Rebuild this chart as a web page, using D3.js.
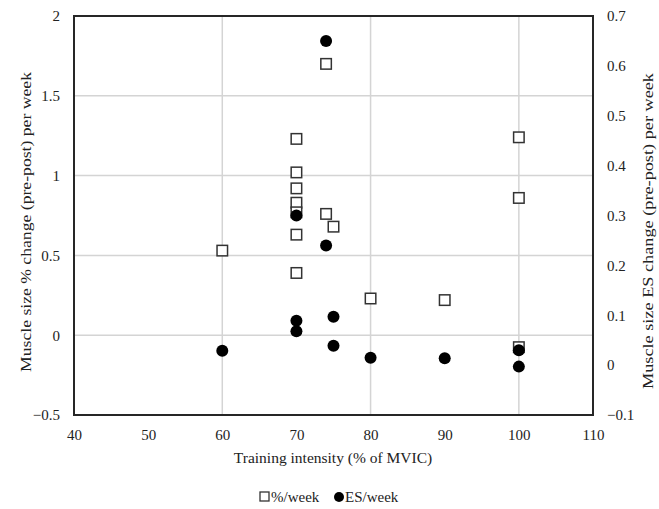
<!DOCTYPE html>
<html>
<head>
<meta charset="utf-8">
<script src="https://cdn.jsdelivr.net/npm/d3@7"></script>
<style>
  body { margin: 0; background: #fff; }
  text { font-family: "Liberation Serif", "DejaVu Serif", serif; fill: #222; }
</style>
</head>
<body>
<div id="chart"></div>
<script>
// training intensity (% MVIC) and % change per week (left axis)
var pctX = [60, 70, 70, 70, 70, 70, 70, 70, 74, 74, 75, 80, 90, 100, 100, 100];
var pctY = [0.53, 1.23, 1.02, 0.92, 0.83, 0.77, 0.63, 0.39, 1.70, 0.76, 0.68, 0.23, 0.22, 1.24, 0.86, -0.075];

// ES change per week (right axis)
var esX = [60, 70, 70, 70, 74, 74, 75, 75, 80, 90, 100, 100];
var esY = [0.029, 0.30, 0.089, 0.068, 0.65, 0.24, 0.097, 0.039, 0.015, 0.014, 0.030, -0.003];

var xTicks = [40, 50, 60, 70, 80, 90, 100, 110];
var leftTicks = [-0.5, 0, 0.5, 1, 1.5, 2];
var rightTicks = [-0.1, 0, 0.1, 0.2, 0.3, 0.4, 0.5, 0.6, 0.7];
var xGrid = [60, 80, 100];
var yGrid = [0, 0.5, 1, 1.5];

var width = 659, height = 509;
var margin = { left: 74, right: 66, top: 16, bottom: 94 };

var svg = d3.select("#chart").append("svg")
  .attr("width", width)
  .attr("height", height);

var x = d3.scaleLinear().domain([40, 110]).range([margin.left, width - margin.right]);
var yL = d3.scaleLinear().domain([-0.5, 2]).range([height - margin.bottom, margin.top]);
var yR = d3.scaleLinear().domain([-0.1, 0.7]).range([height - margin.bottom, margin.top]);

function minusFmt(d) { return d < 0 ? "\u2212" + Math.abs(d) : d; }

// gridlines
svg.append("g").selectAll("line")
  .data(xGrid).enter().append("line")
    .attr("x1", function(d) { return x(d); })
    .attr("x2", function(d) { return x(d); })
    .attr("y1", yL(-0.5)).attr("y2", yL(2))
    .attr("stroke", "#d4d4d4").attr("stroke-width", 1.5);
svg.append("g").selectAll("line")
  .data(yGrid).enter().append("line")
    .attr("x1", x(40)).attr("x2", x(110))
    .attr("y1", function(d) { return yL(d); })
    .attr("y2", function(d) { return yL(d); })
    .attr("stroke", "#d4d4d4").attr("stroke-width", 1.5);

// axes
var xAxis = svg.append("g")
  .attr("transform", "translate(0," + yL(-0.5) + ")")
  .call(d3.axisBottom(x).tickValues(xTicks).tickSize(0).tickPadding(14));
var leftAxis = svg.append("g")
  .attr("transform", "translate(" + x(40) + ",0)")
  .call(d3.axisLeft(yL).tickValues(leftTicks).tickSize(0).tickPadding(14).tickFormat(minusFmt));
var rightAxis = svg.append("g")
  .attr("transform", "translate(" + x(110) + ",0)")
  .call(d3.axisRight(yR).tickValues(rightTicks).tickSize(0).tickPadding(14).tickFormat(minusFmt));

[xAxis, leftAxis, rightAxis].forEach(function(a) {
  a.select(".domain").remove();
  a.selectAll("text")
    .style("font-family", "Liberation Serif, serif")
    .style("font-size", "15px")
    .attr("fill", "#222");
});

// plot frame
svg.append("rect")
  .attr("x", x(40)).attr("y", yL(2))
  .attr("width", x(110) - x(40))
  .attr("height", yL(-0.5) - yL(2))
  .attr("fill", "none")
  .attr("stroke", "#262626")
  .attr("stroke-width", 2);

// axis titles
svg.append("text")
  .attr("x", 333)
  .attr("y", 463)
  .attr("text-anchor", "middle")
  .style("font-size", "15.5px")
  .text("Training intensity (% of MVIC)");

svg.append("text")
  .attr("transform", "translate(26,222) rotate(-90)")
  .attr("text-anchor", "middle")
  .attr("dy", "0.35em")
  .attr("textLength", 300)
  .attr("lengthAdjust", "spacingAndGlyphs")
  .style("font-size", "15px")
  .text("Muscle size % change (pre-post) per week");

svg.append("text")
  .attr("transform", "translate(648,231) rotate(-90)")
  .attr("text-anchor", "middle")
  .attr("dy", "0.35em")
  .attr("textLength", 316)
  .attr("lengthAdjust", "spacingAndGlyphs")
  .style("font-size", "15px")
  .text("Muscle size ES change (pre-post) per week");

// squares: %/week
var sq = 10.5;
svg.append("g").selectAll("rect")
  .data(d3.range(pctX.length)).enter().append("rect")
    .attr("x", function(i) { return x(pctX[i]) - sq / 2; })
    .attr("y", function(i) { return yL(pctY[i]) - sq / 2; })
    .attr("width", sq).attr("height", sq)
    .attr("fill", "#fff")
    .attr("stroke", "#333")
    .attr("stroke-width", 1.5);

// dots: ES/week
svg.append("g").selectAll("circle")
  .data(d3.range(esX.length)).enter().append("circle")
    .attr("cx", function(i) { return x(esX[i]); })
    .attr("cy", function(i) { return yR(esY[i]); })
    .attr("r", 6)
    .attr("fill", "#000");

// legend
var leg = svg.append("g");
leg.append("rect")
  .attr("x", 260).attr("y", 492)
  .attr("width", 9).attr("height", 9)
  .attr("fill", "#fff").attr("stroke", "#333").attr("stroke-width", 1.3);
leg.append("text")
  .attr("x", 271).attr("y", 502)
  .style("font-size", "15px")
  .text("%/week");
leg.append("circle")
  .attr("cx", 339).attr("cy", 497).attr("r", 5)
  .attr("fill", "#000");
leg.append("text")
  .attr("x", 345).attr("y", 502)
  .style("font-size", "15px")
  .text("ES/week");
</script>
</body>
</html>
